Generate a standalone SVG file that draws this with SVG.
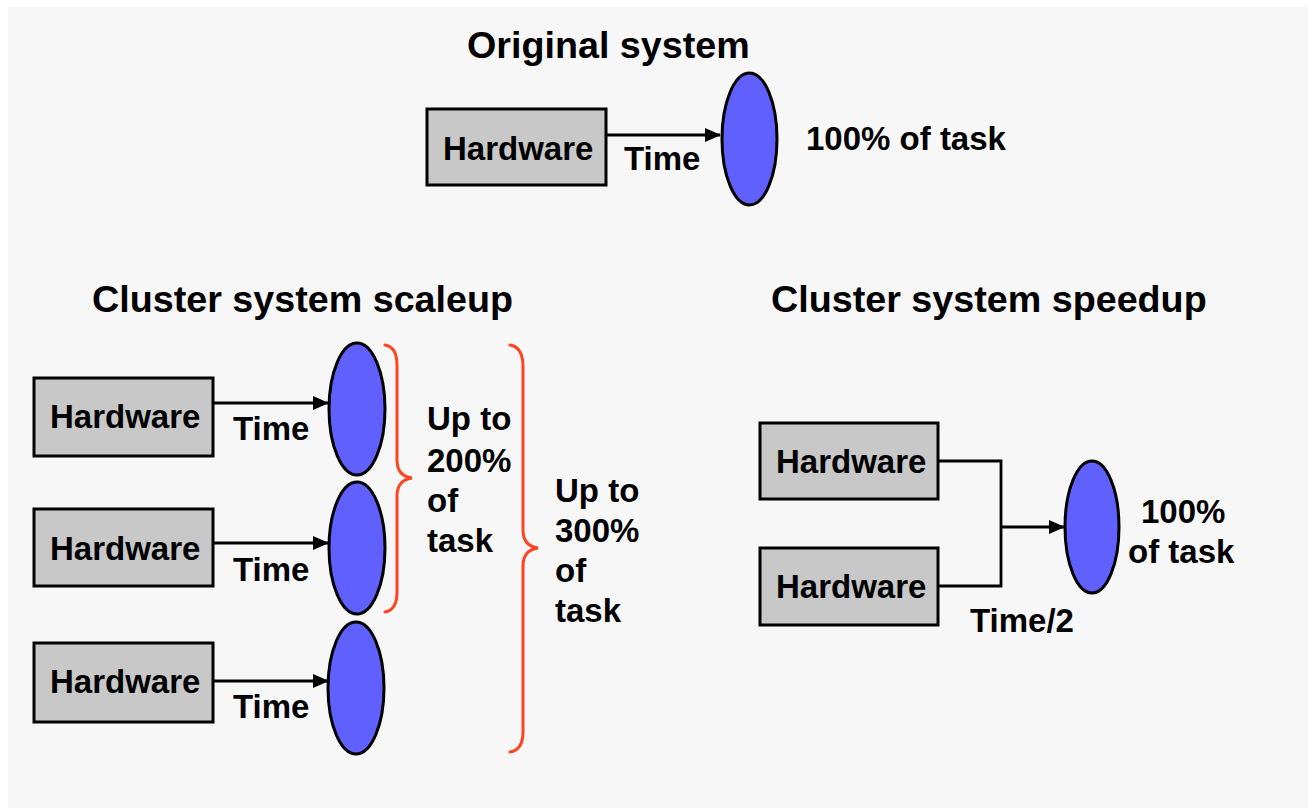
<svg xmlns="http://www.w3.org/2000/svg" width="1314" height="808" viewBox="0 0 1314 808">
<defs>
<marker id="ah" markerWidth="16" markerHeight="14" refX="15" refY="7" orient="auto" markerUnits="userSpaceOnUse">
<path d="M0,0 L16,7 L0,14 Z" fill="#000"/>
</marker>
<style>
text{font-family:"Liberation Sans",Arial,sans-serif;font-weight:bold;fill:#000}
.title{font-size:37.7px}
.t{font-size:33px}
.box{fill:#c8c8c8;stroke:#000;stroke-width:3}
.ell{fill:#6060ff;stroke:#000;stroke-width:3}
.con{fill:none;stroke:#000;stroke-width:2.8}
.brace{fill:none;stroke:#ff4422;stroke-width:3;stroke-linecap:round}
</style>
</defs>
<rect x="0" y="0" width="1314" height="808" fill="#fff"/>
<rect x="8" y="7" width="1300" height="801" fill="#f7f7f7"/>

<text class="title" x="467" y="58">Original system</text>
<text class="title" x="92" y="312">Cluster system scaleup</text>
<text class="title" x="771" y="312">Cluster system speedup</text>

<g id="connectors">
<line class="con" x1="606" y1="135" x2="720" y2="135" marker-end="url(#ah)"/>
<line class="con" x1="213" y1="403" x2="328" y2="403" marker-end="url(#ah)"/>
<line class="con" x1="213" y1="543" x2="328" y2="543" marker-end="url(#ah)"/>
<line class="con" x1="213" y1="681" x2="328" y2="681" marker-end="url(#ah)"/>
<path class="con" d="M938,461 H1001 V586 H938"/>
<line class="con" x1="1001" y1="527" x2="1064" y2="527" marker-end="url(#ah)"/>
</g>

<g id="orig-hw"><rect class="box" x="427" y="109" width="179" height="76"/><text class="t" x="443" y="160">Hardware</text></g>
<g id="orig-time"><text class="t" x="624" y="170">Time</text></g>
<g id="orig-task"><ellipse class="ell" cx="749.5" cy="139" rx="27.5" ry="66"/><text class="t" x="806" y="150">100% of task</text></g>

<g id="s-hw1"><rect class="box" x="34" y="378" width="179" height="78"/><text class="t" x="50" y="428">Hardware</text><text class="t" x="233" y="440">Time</text></g>
<g id="s-hw2"><rect class="box" x="34" y="509" width="179" height="77"/><text class="t" x="50" y="560">Hardware</text><text class="t" x="233" y="581">Time</text></g>
<g id="s-hw3"><rect class="box" x="34" y="643" width="179" height="79"/><text class="t" x="50" y="693">Hardware</text><text class="t" x="233" y="718">Time</text></g>
<g id="s-task1"><ellipse class="ell" cx="357" cy="409" rx="28" ry="66"/></g>
<g id="s-task2"><ellipse class="ell" cx="357" cy="548" rx="28" ry="66"/></g>
<g id="s-task3"><ellipse class="ell" cx="356" cy="688" rx="28" ry="66"/></g>

<g id="brace200">
<path class="brace" d="M385,345 Q397,347 397,365 V460 Q397,476 412,478 Q397,480 397,496 V592 Q397,610 385,612"/>
<text class="t" x="427" y="430">Up to</text>
<text class="t" x="427" y="472">200%</text>
<text class="t" x="427" y="512">of</text>
<text class="t" x="427" y="552">task</text>
</g>
<g id="brace300">
<path class="brace" d="M510,345 Q523,347 523,367 V530 Q523,546 538,548 Q523,550 523,566 V732 Q523,750 510,752"/>
<text class="t" x="555" y="502">Up to</text>
<text class="t" x="555" y="542">300%</text>
<text class="t" x="555" y="582">of</text>
<text class="t" x="555" y="622">task</text>
</g>

<g id="p-hw1"><rect class="box" x="760" y="423" width="178" height="76"/><text class="t" x="776" y="473">Hardware</text></g>
<g id="p-hw2"><rect class="box" x="760" y="548" width="178" height="77"/><text class="t" x="776" y="598">Hardware</text></g>
<g id="p-time"><text class="t" x="970" y="632">Time/2</text></g>
<g id="p-task"><ellipse class="ell" cx="1092" cy="527" rx="27" ry="66"/><text class="t" x="1141" y="523">100%</text><text class="t" x="1128" y="563">of task</text></g>
</svg>
